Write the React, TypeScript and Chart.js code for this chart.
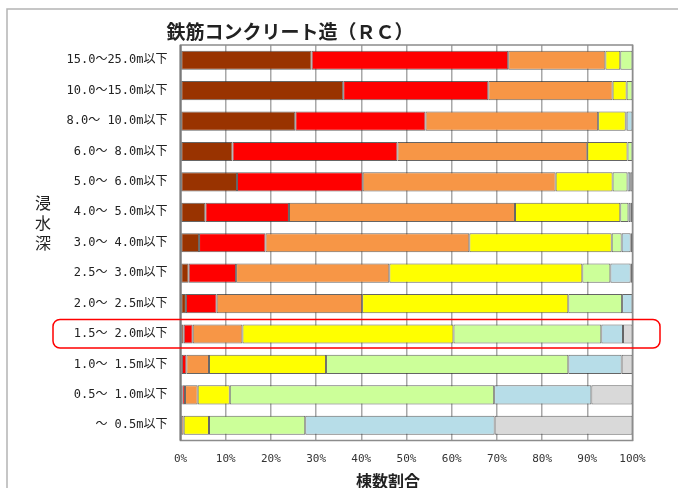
import React, { useEffect, useRef } from "react";
import { Chart, registerables } from "chart.js";

Chart.register(...registerables);

// 浸水深の区分（上から順に）
const depthLabels = [
  "15.0～25.0m以下",
  "10.0～15.0m以下",
  "8.0～ 10.0m以下",
  "6.0～ 8.0m以下",
  "5.0～ 6.0m以下",
  "4.0～ 5.0m以下",
  "3.0～ 4.0m以下",
  "2.5～ 3.0m以下",
  "2.0～ 2.5m以下",
  "1.5～ 2.0m以下",
  "1.0～ 1.5m以下",
  "0.5～ 1.0m以下",
  "～ 0.5m以下",
];

// 被害区分ごとの棟数割合（%）
const share1 = [29.0, 36.0, 25.4, 11.5, 12.5, 5.5, 4.1, 1.8, 1.2, 0.7, 0.3, 0.4, 0];
const share2 = [43.5, 32.1, 28.8, 36.5, 27.8, 18.5, 14.7, 10.5, 6.8, 2.0, 1.0, 0.6, 0];
const share3 = [21.5, 27.5, 38.2, 42.0, 42.7, 50.0, 45.1, 33.9, 32.2, 11.0, 5.0, 2.8, 0.7];
const share4 = [3.3, 3.1, 6.1, 8.9, 12.6, 23.3, 31.5, 42.7, 45.6, 46.7, 25.9, 7.1, 5.6];
const share5 = [2.7, 1.3, 0.2, 1.1, 3.3, 1.8, 2.2, 6.2, 11.9, 32.7, 53.6, 58.5, 21.3];
const share6 = [0, 0, 1.3, 0, 0.6, 0.5, 2.0, 4.5, 2.3, 4.8, 11.8, 21.5, 41.9];
const share7 = [0, 0, 0, 0, 0.5, 0.4, 0.4, 0.4, 0, 2.1, 2.4, 9.1, 30.5];

const seriesNames = ["区分1", "区分2", "区分3", "区分4", "区分5", "区分6", "区分7"];
const seriesColors = ["#993300", "#FF0000", "#F79646", "#FFFF00", "#CCFF99", "#B7DDE8", "#D9D9D9"];

const xTicks = [0, 10, 20, 30, 40, 50, 60, 70, 80, 90, 100];

const chartTitle = "鉄筋コンクリート造（ＲＣ）";
const yTitle = ["浸", "水", "深"];
const xTitle = "棟数割合";
const highlightLabel = "1.5～ 2.0m以下";

const JP_FONT = "'Noto Sans CJK JP', 'Noto Sans', sans-serif";
const MONO_JP_FONT = "'DejaVu Sans Mono', 'Noto Sans CJK JP', monospace";

const decorPlugin = {
  id: "decor",
  beforeDraw(chart: any) {
    const ctx = chart.ctx;
    ctx.save();
    ctx.fillStyle = "#ffffff";
    ctx.fillRect(0, 0, chart.width, chart.height);
    // outer frame
    ctx.strokeStyle = "#b4b4b4";
    ctx.lineWidth = 1.5;
    ctx.beginPath();
    ctx.moveTo(7, chart.height);
    ctx.lineTo(7, 9);
    ctx.lineTo(chart.width, 9);
    ctx.stroke();
    ctx.restore();
  },
  afterDraw(chart: any) {
    const ctx = chart.ctx;
    const area = chart.chartArea;
    const yScale = chart.scales.y;
    ctx.save();

    // plot frame
    ctx.strokeStyle = "#8c8c8c";
    ctx.lineWidth = 1.5;
    ctx.strokeRect(area.left, area.top, area.right - area.left, area.bottom - area.top);
    ctx.strokeStyle = "#7a7a7a";
    ctx.lineWidth = 2;
    ctx.beginPath();
    ctx.moveTo(area.left, area.top);
    ctx.lineTo(area.left, area.bottom);
    ctx.stroke();

    // title
    ctx.fillStyle = "#222";
    ctx.font = `bold 19px ${JP_FONT}`;
    ctx.textAlign = "center";
    ctx.textBaseline = "middle";
    ctx.fillText(chartTitle, 290, 32);

    // y axis title, stacked vertically
    ctx.font = `16px ${JP_FONT}`;
    yTitle.forEach((ch, i) => ctx.fillText(ch, 43, 203 + i * 20));

    // x axis title
    ctx.font = `bold 16px ${JP_FONT}`;
    ctx.fillText(xTitle, 388, 481);

    // highlighted row
    const idx = depthLabels.indexOf(highlightLabel);
    const cy = yScale.getPixelForValue(idx);
    const x0 = 53, x1 = 660, y0 = cy - 14.5, y1 = cy + 14;
    const r = 7;
    ctx.strokeStyle = "#FF0000";
    ctx.lineWidth = 1.5;
    ctx.beginPath();
    ctx.moveTo(x0 + r, y0);
    ctx.lineTo(x1 - r, y0);
    ctx.arcTo(x1, y0, x1, y0 + r, r);
    ctx.lineTo(x1, y1 - r);
    ctx.arcTo(x1, y1, x1 - r, y1, r);
    ctx.lineTo(x0 + r, y1);
    ctx.arcTo(x0, y1, x0, y1 - r, r);
    ctx.lineTo(x0, y0 + r);
    ctx.arcTo(x0, y0, x0 + r, y0, r);
    ctx.closePath();
    ctx.stroke();
    ctx.restore();
  },
};

export default function App() {
  const canvasRef = useRef<HTMLCanvasElement | null>(null);

  useEffect(() => {
    if (!canvasRef.current) return;
    const seriesValues = [share1, share2, share3, share4, share5, share6, share7];
    const chart = new Chart(canvasRef.current, {
      type: "bar",
      data: {
        labels: depthLabels,
        datasets: seriesValues.map((vals, i) => ({
          label: seriesNames[i],
          data: vals,
          backgroundColor: seriesColors[i],
          borderColor: "rgba(50,50,50,0.75)",
          borderWidth: (c: any) => (c.raw > 0 ? 1 : 0),
          borderSkipped: false,
          barPercentage: 0.63,
          categoryPercentage: 1,
        })),
      },
      options: {
        indexAxis: "y",
        animation: false,
        responsive: false,
        devicePixelRatio: 1,
        layout: { padding: { left: 0, top: 45, right: 45.5, bottom: 0 } },
        plugins: {
          legend: { display: false },
          tooltip: { enabled: false },
          title: { display: false },
        },
        scales: {
          x: {
            stacked: true,
            min: 0,
            max: 100,
            afterBuildTicks: (s: any) => {
              s.ticks = xTicks.map((v) => ({ value: v }));
            },
            afterFit: (s: any) => {
              s.height = 47.5;
            },
            ticks: {
              callback: (v: any) => `${v}%`,
              color: "#333",
              font: { family: MONO_JP_FONT, size: 11 },
              padding: 12,
              maxRotation: 0,
              autoSkip: false,
            },
            grid: {
              color: "#a8a8a8",
              lineWidth: 1.5,
              drawTicks: false,
            },
            border: { display: false },
          },
          y: {
            stacked: true,
            afterFit: (s: any) => {
              s.width = 180.5;
            },
            ticks: {
              color: "#222",
              font: { family: MONO_JP_FONT, size: 12 },
              padding: 13,
              autoSkip: false,
            },
            grid: { display: false, drawTicks: false },
            border: { display: false },
          },
        },
      },
      plugins: [decorPlugin],
    });
    return () => chart.destroy();
  }, []);

  return (
    <div style={{ position: "absolute", left: 0, top: 0, width: 678, height: 488 }}>
      <canvas ref={canvasRef} width={678} height={488} />
    </div>
  );
}
